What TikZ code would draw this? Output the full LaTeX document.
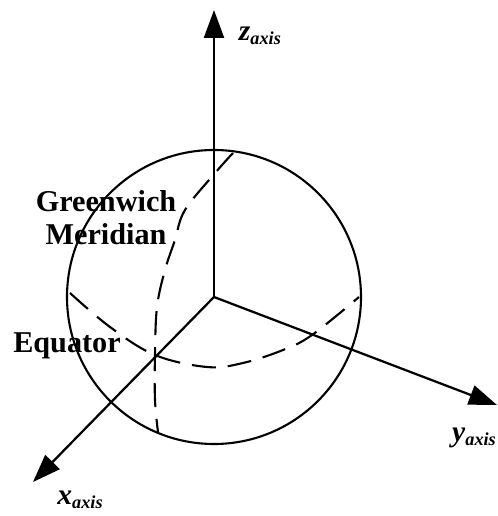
\documentclass[tikz,border=0pt]{standalone}
\usepackage{fontspec}
\setmainfont{Liberation Serif}
\usetikzlibrary{arrows.meta, positioning}
\newcommand{\AxisName}[1]{%
    {\fontsize{21}{24}\selectfont\textbf{\textit{#1}}}%
    \raisebox{-0.25em}{\fontsize{13}{15}\selectfont\textbf{\textit{axis}}}}
\tikzset{
    axisline/.style={-{Triangle[length=0.7cm, width=0.5cm]}, line width=1.6pt},
    hidden/.style={line width=1.5pt, dash pattern=on 0.6cm off 0.3cm},
    bigtext/.style={font=\fontsize{21.5}{25}\selectfont\bfseries, align=center}
}
\begin{document}
\begin{tikzpicture}
    \useasboundingbox (0,0) rectangle (12.45,12.9);
    \coordinate(O) at (5.35,5.475);
    \coordinate(Z) at (5.35,12.65);
    \coordinate(X) at (0.825,0.85);
    \coordinate(Y) at (12.425,2.775);

    % Kugel
    \draw[line width=1.5pt] (O) circle (3.675);

    % Achsen
    \draw[axisline] (O) -- (Z);
    \draw[axisline] (O) -- (X);
    \draw[axisline] (O) -- (Y);
    \node[anchor=west] (zlabel) at (5.85,12.0) {\AxisName{z}};
    \node (xlabel) at (2.0,0.4) {\AxisName{x}};
    \node (ylabel) at (11.85,1.95) {\AxisName{y}};

    % Aequator
    \draw[hidden] plot[smooth, tension=0.6] coordinates {
        (1.75,5.575) (2.75,4.725) (3.875,4.025) (5.175,3.725)
        (6.075,3.825) (7.075,4.15) (7.8,4.525) (8.975,5.475)};

    % Nullmeridian
    \draw[hidden] plot[smooth, tension=0.6] coordinates {
        (5.825,9.075) (5.4,8.6) (4.625,7.65) (4.375,6.9) (4.125,6.15)
        (3.925,5.225) (3.875,4.025) (3.875,2.9) (3.95,2.1)};

    \node[bigtext] (meridian) at (2.65,7.45) {Greenwich\\[-0.05cm]Meridian};
    \node[bigtext] (equator) at (1.675,4.25) {Equator};
\end{tikzpicture}
\end{document}
